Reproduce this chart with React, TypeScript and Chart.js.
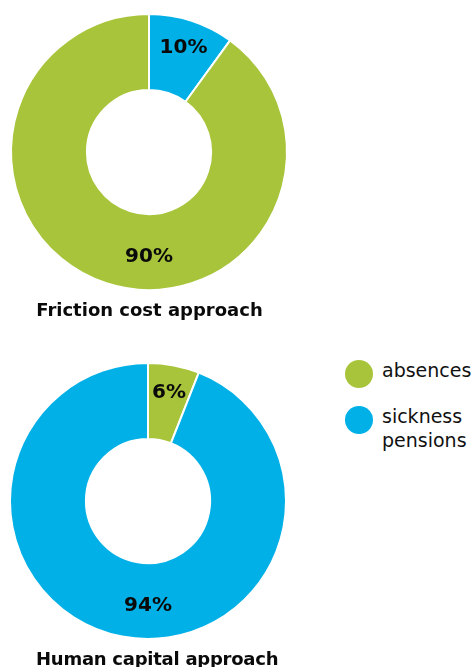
import React, { useEffect, useRef } from "react";
import { Chart, registerables } from "chart.js";

Chart.register(...registerables);

// ---- data ----
const categories = ["absences", "sickness pensions"];
const categoryColors = ["#a8c43a", "#00b0e6"];
const legendLines = [["absences"], ["sickness", "pensions"]];

const frictionTitle = "Friction cost approach";
const frictionLabels = ["sickness pensions", "absences"];
const frictionValues = [10, 90];

const humanTitle = "Human capital approach";
const humanLabels = ["absences", "sickness pensions"];
const humanValues = [6, 94];

const colorFor = (label: string) => categoryColors[categories.indexOf(label)];

const pctLabels = {
  id: "pctLabels",
  afterDatasetsDraw(chart: any) {
    const ctx = chart.ctx;
    const meta = chart.getDatasetMeta(0);
    const data = chart.data.datasets[0].data as number[];
    ctx.save();
    ctx.font = 'bold 20px "DejaVu Sans"';
    ctx.fillStyle = "#0a0a0a";
    ctx.textAlign = "center";
    ctx.textBaseline = "alphabetic";
    meta.data.forEach((arc: any, i: number) => {
      const p = arc.getProps(["x", "y", "startAngle", "endAngle", "outerRadius"], true);
      const span = p.endAngle - p.startAngle;
      let angle: number;
      let r: number;
      if (span > Math.PI) {
        angle = Math.PI / 2;
        r = p.outerRadius * 0.745;
      } else {
        angle = (p.startAngle + p.endAngle) / 2;
        r = p.outerRadius * 0.81;
      }
      const cx = p.x + Math.cos(angle) * r;
      const cy = p.y + Math.sin(angle) * r;
      ctx.fillText(data[i] + "%", cx, cy + 7.3);
    });
    ctx.restore();
  },
};

function Donut({ labels, values, padLeft, padTop }: { labels: string[]; values: number[]; padLeft: number; padTop: number }) {
  const ref = useRef<HTMLCanvasElement>(null);
  useEffect(() => {
    if (!ref.current) return;
    const chart = new Chart(ref.current, {
      type: "doughnut",
      data: {
        labels,
        datasets: [
          {
            data: values,
            backgroundColor: labels.map(colorFor),
            borderColor: "#ffffff",
            borderWidth: 2,
            hoverOffset: 0,
          },
        ],
      },
      options: {
        responsive: false,
        animation: false,
        cutout: "45%",
        layout: { padding: { left: padLeft, top: padTop, right: 300 - padLeft - 278, bottom: 300 - padTop - 278 } },
        plugins: { legend: { display: false }, tooltip: { enabled: false } },
      },
      plugins: [pctLabels],
    });
    return () => chart.destroy();
  }, []);
  return <canvas ref={ref} width={300} height={300} style={{ width: 300, height: 300, display: "block" }} />;
}

export default function App() {
  const titleStyle: React.CSSProperties = {
    position: "absolute",
    fontFamily: '"DejaVu Sans"',
    fontWeight: "bold",
    fontSize: 18,
    lineHeight: "18px",
    color: "#0a0a0a",
    whiteSpace: "nowrap",
  };
  const legendText: React.CSSProperties = {
    fontFamily: '"DejaVu Sans"',
    fontSize: 19,
    lineHeight: "24px",
    color: "#111111",
    whiteSpace: "nowrap",
  };
  return (
    <div style={{ position: "absolute", left: 0, top: 0, width: 473, height: 667, overflow: "hidden", background: "#fff" }}>
      <div style={{ position: "absolute", left: 0, top: 0 }}>
        <Donut labels={frictionLabels} values={frictionValues} padLeft={10} padTop={13} />
      </div>
      <div style={{ ...titleStyle, left: 0, width: 299, textAlign: "center", top: 301 }}>{frictionTitle}</div>
      <div style={{ position: "absolute", left: 0, top: 350 }}>
        <Donut labels={humanLabels} values={humanValues} padLeft={9} padTop={12} />
      </div>
      <div style={{ ...titleStyle, left: 36, top: 650, letterSpacing: "-0.25px" }}>{humanTitle}</div>
      {legendLines.map((lines, i) => (
        <div key={i} style={{ position: "absolute", left: 345, top: 359 + i * 46, display: "flex", alignItems: "flex-start" }}>
          <div style={{ width: 28, height: 28, borderRadius: 14, background: categoryColors[i], marginTop: 1 }} />
          <div style={{ marginLeft: 9, marginTop: -1 }}>
            {lines.map((l, j) => (
              <div key={j} style={legendText}>{l}</div>
            ))}
          </div>
        </div>
      ))}
    </div>
  );
}
